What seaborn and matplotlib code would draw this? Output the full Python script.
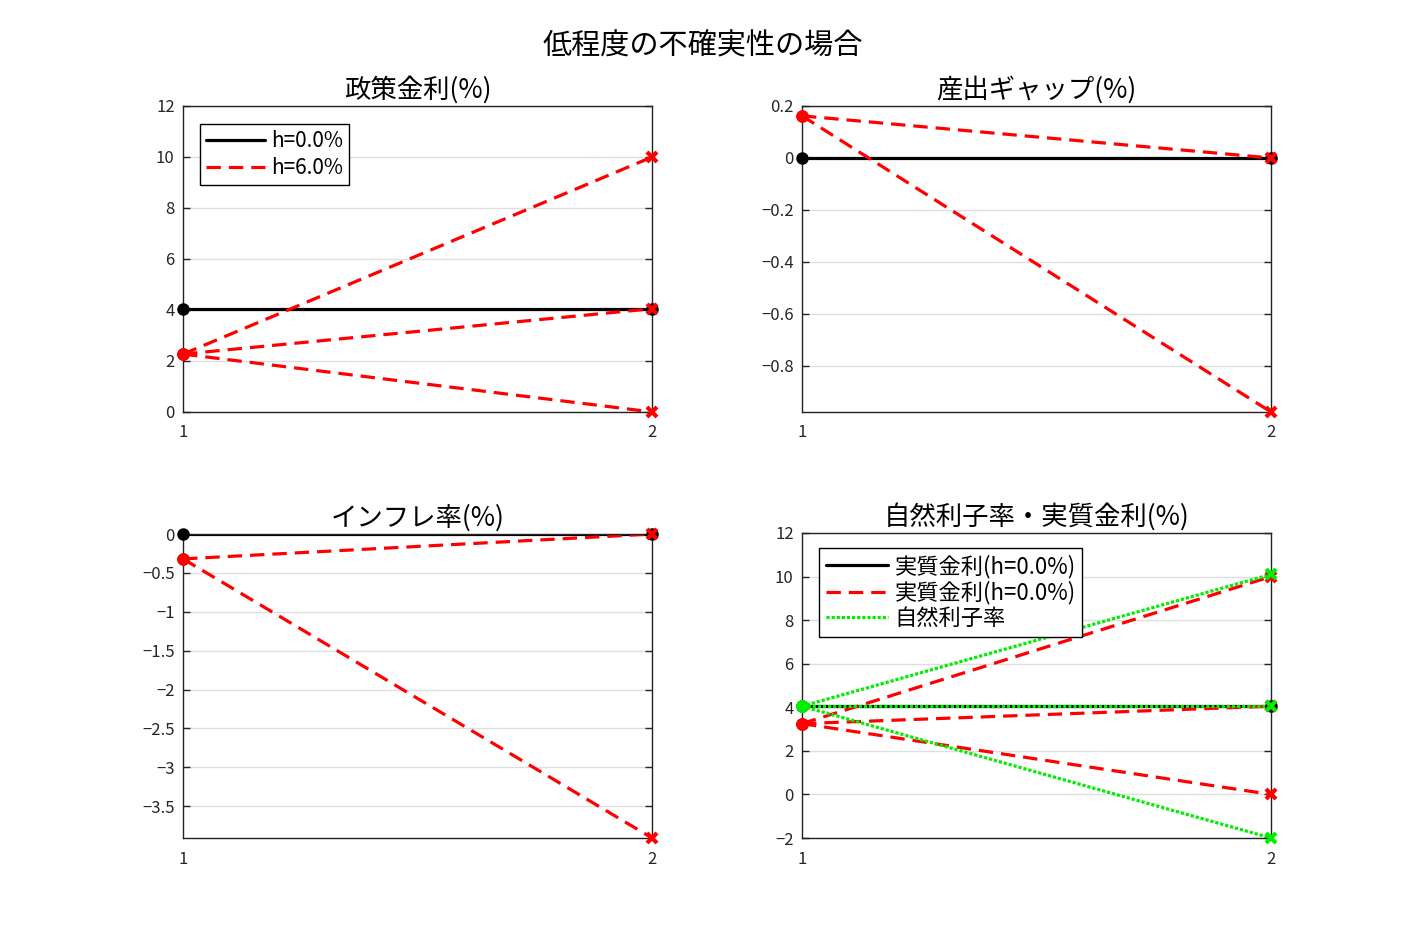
import numpy as np
import pandas as pd
import seaborn as sns
import matplotlib.pyplot as plt
from matplotlib.ticker import FuncFormatter, MultipleLocator

# periods
t = [1, 2]

# 政策金利
rate_base = [4.05, 4.05]
rate_start = 2.27
rate_ends = [10.0, 4.05, 0.0]

# 産出ギャップ
gap_base = [0.0, 0.0]
gap_start = 0.162
gap_ends = [0.0, -0.977]

# インフレ率
inf_base = [0.0, 0.0]
inf_start = -0.32
inf_ends = [0.0, -3.91]

# 自然利子率・実質金利
real_base = [4.05, 4.05]
real_start = 3.25
real_ends = [10.0, 4.05, 0.0]
nat_start = 4.05
nat_ends = [10.1, 4.05, -2.0]

titles = ['政策金利(%)', '産出ギャップ(%)', 'インフレ率(%)', '自然利子率・実質金利(%)']
suptitle = '低程度の不確実性の場合'
legend1 = ['h=0.0%', 'h=6.0%']
legend4 = ['実質金利(h=0.0%)', '実質金利(h=0.0%)', '自然利子率']

sns.set_theme(style='white')
plt.rcParams['font.family'] = ['Noto Sans CJK JP', 'DejaVu Sans']
plt.rcParams['axes.unicode_minus'] = True

RED = '#ff0000'
GREEN = '#00ee00'
DASH = (4.5, 2.5)
DOT = (1, 0.6)


def fmt(v, pos):
    s = f'{v:g}'
    return s.replace('-', '\u2212')


def draw_line(ax, y, color, style, label=None):
    df = pd.DataFrame({'t': t, 'v': y})
    sns.lineplot(data=df, x='t', y='v', ax=ax, color=color, lw=2.3,
                 label=label, legend=False)
    ln = ax.lines[-1]
    if style == '--':
        ln.set_dashes(DASH)
    elif style == ':':
        ln.set_dashes(DOT)
    return ln


def draw_markers(ax, y, color, end_marker='x'):
    ax.plot(t[0], y[0], marker='o', ms=8, color=color, clip_on=False, zorder=5)
    if end_marker == 'x':
        ax.plot(t[1], y[1], marker='x', ms=7, mew=3, color=color, clip_on=False, zorder=6)
    else:
        ax.plot(t[1], y[1], marker='o', ms=8, color=color, clip_on=False, zorder=5)


def style_axes(ax, title, ylim, step):
    ax.set_xlim(1, 2)
    ax.set_ylim(*ylim)
    ax.set_xticks([1, 2])
    ax.set_xticklabels(['1', '2'])
    ax.yaxis.set_major_locator(MultipleLocator(step))
    ax.yaxis.set_major_formatter(FuncFormatter(fmt))
    ax.set_xlabel('')
    ax.set_ylabel('')
    ax.grid(axis='y', color='#dedede', lw=1)
    ax.grid(axis='x', visible=False)
    ax.set_axisbelow(True)
    for sp in ax.spines.values():
        sp.set_color('#222222')
        sp.set_linewidth(1)
    ax.tick_params(axis='y', which='both', direction='in', length=5, width=1,
                   left=True, right=True, labelsize=12, labelcolor='#262626', pad=6)
    ax.tick_params(axis='x', direction='in', length=0, labelsize=12,
                   labelcolor='#262626', pad=9)
    ax.set_title(title, fontsize=19, pad=6, color='black')


def add_legend(ax, handles, labels, anchor, fs, spacing):
    ax.legend(handles, labels, loc='upper left', fontsize=fs,
              frameon=True, fancybox=False, edgecolor='black', framealpha=1,
              handlelength=2.8, handletextpad=0.3, borderpad=0.3,
              labelspacing=spacing, borderaxespad=0, bbox_to_anchor=anchor)
    ax.get_legend().get_frame().set_linewidth(1)
    for txt in ax.get_legend().get_texts():
        txt.set_color('black')


fig = plt.figure(figsize=(14.06, 9.38), dpi=100)
ax1 = fig.add_axes([0.1302, 0.5608, 0.3336, 0.3262])
ax2 = fig.add_axes([0.5704, 0.5608, 0.3336, 0.3262])
ax3 = fig.add_axes([0.1302, 0.1066, 0.3336, 0.3241])
ax4 = fig.add_axes([0.5704, 0.1066, 0.3336, 0.3252])

# panel 1
h_black = draw_line(ax1, rate_base, 'black', '-')
draw_markers(ax1, rate_base, 'black', end_marker='o')
h_red = None
for e in rate_ends:
    y = [rate_start, e]
    ln = draw_line(ax1, y, RED, '--')
    h_red = h_red or ln
    draw_markers(ax1, y, RED)
style_axes(ax1, titles[0], (0, 12), 2)
add_legend(ax1, [h_black, h_red], legend1, (0.036, 0.941), 15, 0.22)

# panel 2
draw_line(ax2, gap_base, 'black', '-')
draw_markers(ax2, gap_base, 'black', end_marker='o')
for e in gap_ends:
    y = [gap_start, e]
    draw_line(ax2, y, RED, '--')
    draw_markers(ax2, y, RED)
style_axes(ax2, titles[1], (-0.977, 0.2), 0.2)

# panel 3
draw_line(ax3, inf_base, 'black', '-')
draw_markers(ax3, inf_base, 'black', end_marker='o')
for e in inf_ends:
    y = [inf_start, e]
    draw_line(ax3, y, RED, '--')
    draw_markers(ax3, y, RED)
style_axes(ax3, titles[2], (-3.91, 0), 0.5)

# panel 4
h4_black = draw_line(ax4, real_base, 'black', '-')
draw_markers(ax4, real_base, 'black', end_marker='o')
h4_red = None
for e in real_ends:
    y = [real_start, e]
    ln = draw_line(ax4, y, RED, '--')
    h4_red = h4_red or ln
    draw_markers(ax4, y, RED)
h4_green = None
for e in nat_ends:
    y = [nat_start, e]
    ln = draw_line(ax4, y, GREEN, ':')
    h4_green = h4_green or ln
    draw_markers(ax4, y, GREEN)
style_axes(ax4, titles[3], (-2, 12), 2)
add_legend(ax4, [h4_black, h4_red, h4_green], legend4, (0.036, 0.951), 16, 0.12)

fig.text(0.5, 0.951, suptitle, ha='center', va='center', fontsize=21, color='black')

fig.savefig('out.png', dpi=100)
